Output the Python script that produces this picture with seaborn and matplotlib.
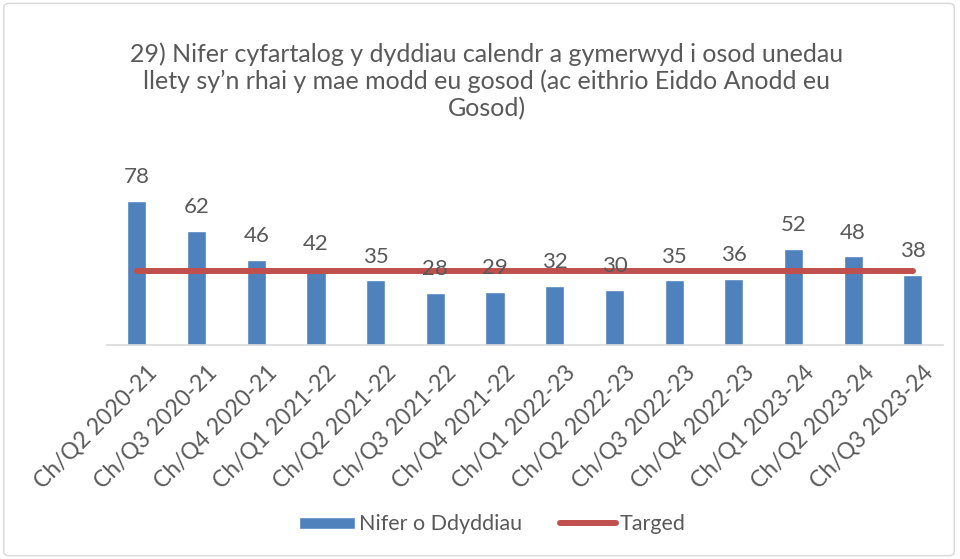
import numpy as np
import pandas as pd
import seaborn as sns
import matplotlib.pyplot as plt
import matplotlib.transforms as mtransforms
from matplotlib.lines import Line2D
from matplotlib.patches import Patch, FancyBboxPatch

quarters = ['Ch/Q2 2020-21', 'Ch/Q3 2020-21', 'Ch/Q4 2020-21', 'Ch/Q1 2021-22',
            'Ch/Q2 2021-22', 'Ch/Q3 2021-22', 'Ch/Q4 2021-22', 'Ch/Q1 2022-23',
            'Ch/Q2 2022-23', 'Ch/Q3 2022-23', 'Ch/Q4 2022-23', 'Ch/Q1 2023-24',
            'Ch/Q2 2023-24', 'Ch/Q3 2023-24']
days = [78, 62, 46, 42, 35, 28, 29, 32, 30, 35, 36, 52, 48, 38]
target = [40] * 14

df = pd.DataFrame({'quarter': quarters, 'days': days, 'target': target})

sns.set_theme(style='white')
plt.rcParams['font.family'] = ['Lato', 'DejaVu Sans']

fig = plt.figure(figsize=(9.6, 5.59), dpi=100)
ax = fig.add_axes([0.1115, 0.3828, 0.8705, 0.297])

bar_col = '#4F81BD'
line_col = '#C0504D'
text_col = '#595959'

sns.barplot(data=df, x='quarter', y='days', color=bar_col, width=0.32,
            saturation=1, ax=ax, zorder=2)
sns.lineplot(x=np.arange(len(quarters)), y=df['target'], color=line_col,
             linewidth=4.3, ax=ax, zorder=3, solid_capstyle='round')

for i, v in enumerate(days):
    ax.annotate(str(v), (i, v), xytext=(0, 10), textcoords='offset points',
                ha='center', va='bottom', fontsize=16, color=text_col, zorder=4)

ax.set_xlim(-0.5, len(quarters) - 0.5)
ax.set_ylim(0, 90)
ax.set_xlabel('')
ax.set_ylabel('')
ax.set_yticks([])
for s in ['top', 'right', 'left']:
    ax.spines[s].set_visible(False)
ax.spines['bottom'].set_color('#D9D9D9')
ax.spines['bottom'].set_linewidth(1.2)
ax.tick_params(axis='x', length=0, pad=12)
shift = mtransforms.ScaledTranslation(7 / 72, 0, fig.dpi_scale_trans)
for lab in ax.get_xticklabels():
    lab.set_rotation(45)
    lab.set_ha('right')
    lab.set_rotation_mode('anchor')
    lab.set_fontsize(16.5)
    lab.set_color(text_col)
    lab.set_transform(lab.get_transform() + shift)

fig.text(0.507, 0.925,
         "29) Nifer cyfartalog y dyddiau calendr a gymerwyd i osod unedau\n"
         "llety sy\u2019n rhai y mae modd eu gosod (ac eithrio Eiddo Anodd eu\n"
         "Gosod)", ha='center', va='top', multialignment='center',
         fontsize=18, color=text_col, linespacing=1.2)

handles = [Patch(facecolor=bar_col, label='Nifer o Ddyddiau'),
           Line2D([0], [0], color=line_col, linewidth=4.3, solid_capstyle='round',
                  label='Targed')]
fig.legend(handles=handles, loc='center', bbox_to_anchor=(0.513, 0.062), ncol=2,
           frameon=False, fontsize=15.5, labelcolor=text_col, handlelength=2.6,
           handleheight=0.5, columnspacing=1.8, handletextpad=0.15)

border = FancyBboxPatch((0.004, 0.006), 0.99, 0.988, boxstyle='round,pad=0,rounding_size=0.006',
                        transform=fig.transFigure, fill=False, edgecolor='#D9D9D9',
                        linewidth=1)
fig.patches.append(border)

fig.savefig('out.png', dpi=100)
